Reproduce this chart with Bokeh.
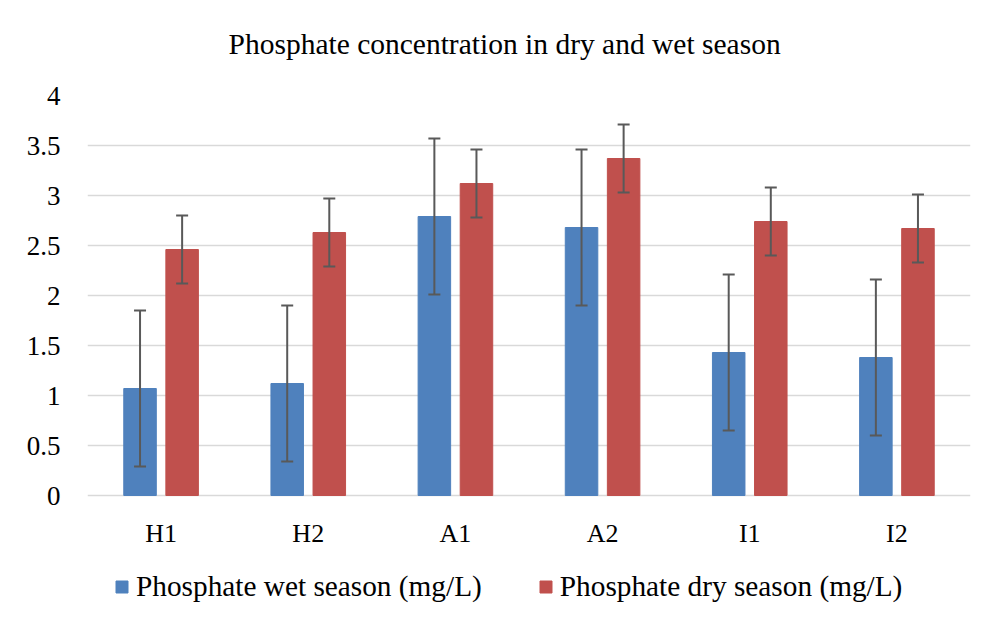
from bokeh.plotting import figure
from bokeh.models import (ColumnDataSource, FactorRange, Range1d, Whisker, TeeHead, Title,
                          Legend, LegendItem, FixedTicker, NumeralTickFormatter)
from bokeh.transform import dodge
from bokeh.embed import file_html
from bokeh.resources import INLINE

# ---- data ----
sites = ["H1", "H2", "A1", "A2", "I1", "I2"]
wet = [1.07, 1.12, 2.79, 2.68, 1.43, 1.38]
dry = [2.46, 2.63, 3.12, 3.37, 2.74, 2.67]
wet_err = [0.78, 0.78, 0.78, 0.78, 0.78, 0.78]
dry_err = [0.34, 0.34, 0.34, 0.34, 0.34, 0.34]
y_ticks = [0, 0.5, 1, 1.5, 2, 2.5, 3, 3.5, 4]
title_text = "Phosphate concentration in dry and wet season"
wet_label = "Phosphate wet season (mg/L)"
dry_label = "Phosphate dry season (mg/L)"

FONT = "Liberation Serif"
BLUE = "#4F81BD"
RED = "#C0504D"
GRID = "#D9D9D9"
ERR = "#595959"

wet_src = ColumnDataSource(dict(
    site=sites, val=wet,
    upper=[v + e for v, e in zip(wet, wet_err)],
    lower=[v - e for v, e in zip(wet, wet_err)]))
dry_src = ColumnDataSource(dict(
    site=sites, val=dry,
    upper=[v + e for v, e in zip(dry, dry_err)],
    lower=[v - e for v, e in zip(dry, dry_err)]))
lab_src = ColumnDataSource(dict(site=sites))

# plot area: 0..4 occupies the upper 400 px; the lower strip holds the
# category labels and the legend (100 px per unit on the y scale)
p = figure(frame_width=883, frame_height=513, output_backend="svg", toolbar_location=None,
           x_range=FactorRange(*sites, range_padding=0),
           y_range=Range1d(-1.13, 4),
           min_border_left=87, min_border_right=2,
           min_border_top=95, min_border_bottom=0,
           title=title_text)
p.background_fill_color = "white"
p.border_fill_color = "white"
p.outline_line_color = None

p.title.align = "left"
p.title.offset = 141
p.title.text_font = FONT
p.title.text_font_size = "29.5px"
p.title.text_font_style = "normal"
p.title.text_color = "#000000"
p.title.standoff = 6

# invisible spacer between the title and the plot area
p.add_layout(Title(text=" ", text_font_size="1px", standoff=30), "above")

OFF = 0.143
BW = 0.221
r_wet = p.vbar(x=dodge("site", -OFF, range=p.x_range), top="val", width=BW,
               source=wet_src, fill_color=BLUE, line_color=BLUE)
r_dry = p.vbar(x=dodge("site", OFF, range=p.x_range), top="val", width=BW,
               source=dry_src, fill_color=RED, line_color=RED)

for src, off in ((wet_src, -OFF), (dry_src, OFF)):
    w = Whisker(base=dodge("site", off, range=p.x_range), upper="upper", lower="lower",
                source=src, line_color=ERR, line_width=2, level="annotation",
                upper_head=TeeHead(size=12, line_color=ERR, line_width=2),
                lower_head=TeeHead(size=12, line_color=ERR, line_width=2))
    p.add_layout(w)

# category labels under the zero line
p.text(x="site", y=0, text="site", source=lab_src, y_offset=38,
       text_align="center", text_baseline="middle",
       text_font="Liberation Serif", text_font_size="26px", text_color="#000000")

# axes
p.xaxis.visible = False

p.yaxis.axis_line_color = None
p.yaxis.major_tick_line_color = None
p.yaxis.minor_tick_line_color = None
p.yaxis.major_tick_out = 0
p.yaxis.major_label_standoff = 27
p.yaxis.ticker = FixedTicker(ticks=y_ticks)
p.yaxis.formatter = NumeralTickFormatter(format="0.[0]")
p.yaxis.major_label_text_font = FONT
p.yaxis.major_label_text_font_size = "27px"
p.yaxis.major_label_text_color = "#000000"

p.xgrid.grid_line_color = None
p.ygrid.grid_line_color = GRID
p.ygrid.grid_line_width = 1.5

legend = Legend(items=[LegendItem(label=wet_label, renderers=[r_wet]),
                       LegendItem(label=dry_label, renderers=[r_dry])],
                orientation="horizontal", location=(27, 5),
                label_text_font=FONT, label_text_font_size="29.3px",
                label_text_color="#000000",
                glyph_width=15, glyph_height=15, label_standoff=7, spacing=56,
                border_line_color=None, background_fill_alpha=0,
                padding=0, margin=0)
p.add_layout(legend, "center")

open("out.html", "w").write(file_html(p, INLINE))
